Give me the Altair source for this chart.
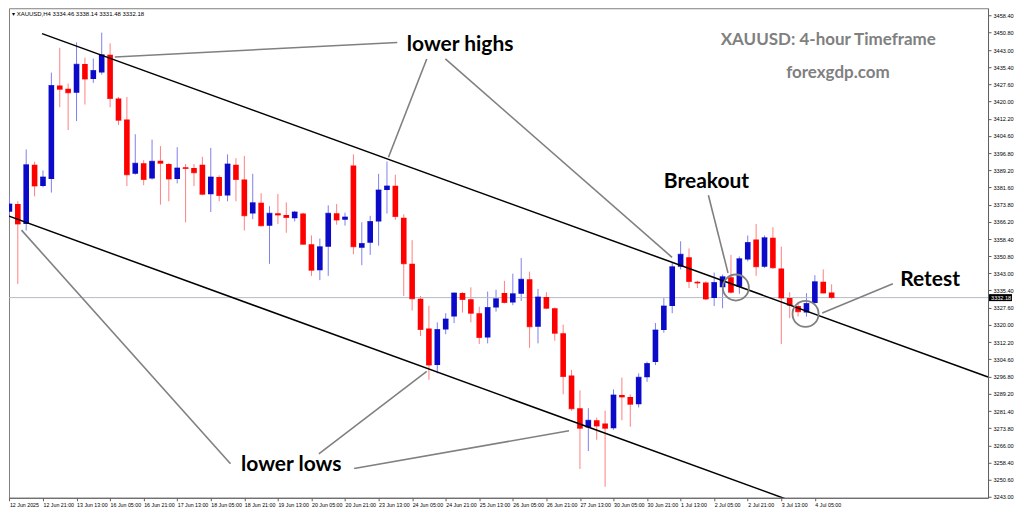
import altair as alt
import pandas as pd

# ---------------- data ----------------
opens = [3370.6, 3374.1, 3365.1, 3391.6, 3382.1, 3385.3, 3427.1, 3425.7, 3423.9, 3436.7,
         3430.0, 3432.9, 3440.9, 3421.3, 3411.9, 3387.6, 3392.3, 3385.5, 3393.4, 3392.0,
         3385.3, 3390.5, 3390.2, 3391.6, 3378.5, 3386.2, 3377.9, 3391.7, 3385.0, 3369.8,
         3374.6, 3364.4, 3369.9, 3369.2, 3367.7, 3369.8, 3356.1, 3344.4, 3355.0, 3369.9,
         3367.0, 3391.3, 3354.5, 3356.7, 3366.3, 3380.4, 3382.3, 3367.9, 3347.3, 3331.7,
         3318.4, 3302.0, 3317.9, 3323.7, 3334.3, 3331.4, 3325.2, 3314.3, 3327.8, 3334.3,
         3330.0, 3333.9, 3340.4, 3319.1, 3332.5, 3327.4, 3316.2, 3297.3, 3282.7, 3274.0,
         3277.3, 3275.8, 3273.7, 3288.6, 3287.7, 3284.5, 3296.5, 3303.4, 3317.7, 3328.4,
         3346.0, 3350.3, 3339.3, 3338.9, 3332.0, 3336.8, 3341.3, 3337.1, 3349.2, 3358.2,
         3346.0, 3359.0, 3345.2, 3332.0, 3328.4, 3325.5, 3329.8, 3339.3, 3334.46]
highs = [3377.5, 3375.3, 3398.5, 3393.0, 3389.1, 3432.9, 3444.0, 3428.0, 3446.4, 3439.6,
         3439.2, 3450.8, 3446.0, 3422.0, 3422.0, 3405.3, 3393.7, 3402.9, 3400.0, 3392.5,
         3399.5, 3392.0, 3392.0, 3395.2, 3399.2, 3386.9, 3396.3, 3394.6, 3395.6, 3387.6,
         3378.9, 3373.1, 3378.6, 3374.8, 3371.0, 3370.2, 3360.0, 3358.6, 3373.5, 3374.1,
         3370.2, 3396.3, 3365.9, 3368.8, 3387.6, 3393.1, 3387.2, 3369.5, 3357.9, 3332.9,
         3328.5, 3321.1, 3325.2, 3334.5, 3334.6, 3336.8, 3328.1, 3334.9, 3335.7, 3339.7,
         3342.9, 3349.9, 3343.8, 3336.1, 3334.6, 3327.8, 3320.1, 3299.8, 3290.6, 3282.7,
         3278.5, 3281.6, 3291.1, 3296.4, 3288.9, 3298.3, 3303.5, 3320.8, 3332.0, 3347.7,
         3357.4, 3354.2, 3339.7, 3339.5, 3343.4, 3342.5, 3351.3, 3350.6, 3360.0, 3365.1,
         3360.0, 3363.7, 3355.0, 3334.6, 3330.3, 3334.2, 3342.2, 3344.8, 3338.14]
lows = [3367.3, 3338.3, 3362.2, 3377.5, 3381.5, 3379.2, 3417.4, 3407.2, 3411.2, 3418.6,
        3428.3, 3432.0, 3417.4, 3409.4, 3382.1, 3387.2, 3382.5, 3385.0, 3373.8, 3375.3,
        3383.3, 3365.9, 3382.1, 3378.0, 3370.5, 3375.3, 3375.3, 3375.3, 3362.2, 3367.3,
        3364.0, 3347.3, 3365.1, 3361.2, 3366.3, 3356.0, 3341.9, 3340.0, 3341.9, 3364.8,
        3364.4, 3351.6, 3346.7, 3351.3, 3355.4, 3369.8, 3367.0, 3332.9, 3326.4, 3315.0,
        3295.4, 3298.3, 3315.8, 3320.8, 3325.5, 3321.1, 3311.4, 3311.7, 3325.9, 3329.6,
        3328.8, 3330.7, 3309.7, 3311.7, 3327.0, 3312.9, 3288.9, 3281.5, 3255.5, 3263.5,
        3268.6, 3247.5, 3273.0, 3277.3, 3274.4, 3283.0, 3294.5, 3302.0, 3316.5, 3325.2,
        3344.8, 3336.5, 3336.5, 3331.0, 3328.4, 3327.4, 3334.0, 3333.9, 3348.4, 3341.9,
        3345.5, 3345.0, 3311.4, 3323.0, 3323.7, 3323.7, 3329.5, 3334.0, 3331.48]
closes = [3374.1, 3365.1, 3391.6, 3382.1, 3386.2, 3427.1, 3425.4, 3423.9, 3436.6, 3430.0,
          3433.8, 3440.9, 3421.3, 3411.6, 3387.2, 3392.3, 3385.0, 3393.2, 3392.3, 3385.3,
          3390.2, 3390.0, 3388.1, 3378.5, 3386.2, 3377.9, 3392.0, 3385.0, 3368.8, 3374.6,
          3364.4, 3369.9, 3369.2, 3368.0, 3370.5, 3356.1, 3344.4, 3355.0, 3369.9, 3366.9,
          3368.3, 3355.0, 3356.4, 3366.3, 3380.4, 3382.1, 3368.5, 3347.3, 3331.7, 3317.9,
          3302.0, 3317.9, 3322.6, 3334.3, 3331.3, 3325.2, 3314.3, 3327.8, 3331.7, 3330.0,
          3333.9, 3340.4, 3319.1, 3332.5, 3327.4, 3316.2, 3296.9, 3282.4, 3273.7, 3277.3,
          3274.7, 3273.7, 3288.6, 3287.7, 3284.5, 3296.5, 3302.7, 3317.7, 3328.4, 3346.0,
          3351.6, 3339.4, 3338.7, 3331.6, 3338.9, 3341.5, 3334.6, 3349.6, 3356.9, 3346.0,
          3359.0, 3345.5, 3332.0, 3328.8, 3325.9, 3329.6, 3339.3, 3334.3, 3332.18]

x_labels = ["12 Jun 2025", "12 Jun 21:00", "13 Jun 13:00", "16 Jun 05:00", "16 Jun 21:00",
            "17 Jun 13:00", "18 Jun 05:00", "18 Jun 21:00", "19 Jun 13:00", "20 Jun 05:00",
            "20 Jun 21:00", "23 Jun 13:00", "24 Jun 05:00", "24 Jun 21:00", "25 Jun 13:00",
            "26 Jun 05:00", "26 Jun 21:00", "27 Jun 13:00", "30 Jun 05:00", "30 Jun 21:00",
            "1 Jul 13:00", "2 Jul 05:00", "2 Jul 21:00", "3 Jul 13:00", "4 Jul 05:00"]
bars_per_label = 4
y_ticks = [3458.40, 3450.80, 3443.00, 3435.40, 3427.60, 3420.00, 3412.20, 3404.60,
           3396.80, 3389.20, 3381.60, 3373.80, 3366.20, 3358.40, 3350.80, 3343.00,
           3335.40, 3327.60, 3320.00, 3312.20, 3304.60, 3296.80, 3289.20, 3281.40,
           3273.80, 3266.00, 3258.40, 3250.60, 3243.00]
last_price = 3332.18
header = "\u25BE XAUUSD,H4  3334.46 3338.14 3331.48 3332.18"

# channel trendlines (bar index, price)
chan_x1 = [3.89, -0.32]
chan_y1 = [3450.34, 3369.0]
chan_x2 = [116.64, 95.0]
chan_y2 = [3296.66, 3238.7]

# grey pointer lines (bar index, price)
ptr_x1 = [12.56, 45.18, 51.96, 1.44, 36.88, 41.09, 83.31, 96.88]
ptr_y1 = [3439.9, 3395.0, 3439.0, 3362.4, 3262.2, 3255.7, 3378.0, 3325.3]
ptr_x2 = [46.23, 49.74, 78.98, 26.35, 49.74, 66.70, 85.65, 105.3]
ptr_y2 = [3446.4, 3439.0, 3350.2, 3257.8, 3299.2, 3272.6, 3343.2, 3338.4]

circ_x = [86.58, 94.89]
circ_y = [3336.7, 3324.9]

label_text = ["lower highs", "lower lows", "Breakout", "Retest"]
label_x = [53.72, 33.6, 83.08, 109.74]
label_y = [3445.1, 3257.4, 3384.1, 3340.2]

title_text = ["XAUUSD: 4-hour Timeframe", "forexgdp.com"]
title_x = [97.6, 98.75]
title_y = [3447.7, 3432.5]

# ---------------- chart ----------------
W, H = 980, 490
BLUE = "#0a0ac8"
RED = "#ff0000"

candles = pd.DataFrame({"i": list(range(len(opens))), "o": opens, "h": highs,
                        "l": lows, "c": closes})
chan = pd.DataFrame({"x1": chan_x1, "y1": chan_y1, "x2": chan_x2, "y2": chan_y2})
ptr = pd.DataFrame({"x1": ptr_x1, "y1": ptr_y1, "x2": ptr_x2, "y2": ptr_y2})
circ = pd.DataFrame({"x": circ_x, "y": circ_y})
labels = pd.DataFrame({"t": label_text, "x": label_x, "y": label_y})
titles = pd.DataFrame({"t": title_text, "x": title_x, "y": title_y})
price = pd.DataFrame({"p": [last_price], "t": [f"{last_price:.2f}"]})

xs = alt.Scale(domain=[-0.05, 116.64], nice=False, zero=False)
ys = alt.Scale(domain=[3242.6, 3461.7], nice=False, zero=False)

label_expr = "[" + ",".join(f"'{s}'" for s in x_labels) + f"][round(datum.value/{bars_per_label})]"

x_axis = alt.Axis(values=[k * bars_per_label for k in range(len(x_labels))],
                  labelExpr=label_expr, labelAlign="left", labelPadding=2,
                  labelFontSize=5.3, labelFont="Liberation Sans", labelColor="#000000",
                  tickSize=3, tickColor="#606060", domainColor="#606060",
                  labelOverlap=False, labelFlush=False, labelBound=False,
                  grid=False, title=None)
y_axis = alt.Axis(orient="right", values=y_ticks, format=".2f", labelFontSize=5.6,
                  labelFont="Liberation Sans", labelColor="#000000", tickSize=3,
                  tickColor="#606060", domainColor="#606060", labelPadding=2,
                  labelOverlap=False, grid=False, title=None)


def X(f):
    return alt.X(f, type="quantitative", scale=xs, axis=x_axis)


def Y(f):
    return alt.Y(f, type="quantitative", scale=ys, axis=y_axis)


bull = alt.datum.c >= alt.datum.o

wicks = alt.Chart(candles).mark_rule(strokeWidth=1, clip=True).encode(
    x=X("i"), y=Y("h"), y2="l:Q",
    color=alt.condition(bull, alt.value("#8080ee"), alt.value("#ff8080")),
)
price_line = alt.Chart(price).mark_rule(color="#b4bcc8", strokeWidth=1).encode(y=Y("p"))
bodies = alt.Chart(candles).mark_rule(strokeWidth=5.6, strokeCap="butt", clip=True).encode(
    x=X("i"), y=Y("o"), y2="c:Q",
    color=alt.condition(bull, alt.value(BLUE), alt.value(RED)),
)
doji = alt.Chart(candles).mark_tick(orient="horizontal", size=5.6, thickness=1, clip=True).encode(
    x=X("i"), y=Y("c"),
    color=alt.condition(bull, alt.value(BLUE), alt.value(RED)),
)

chan_lines = alt.Chart(chan).mark_rule(color="#000000", strokeWidth=1.5, clip=True).encode(
    x=X("x1"), y=Y("y1"), x2="x2:Q", y2="y2:Q")
ptr_lines = alt.Chart(ptr).mark_rule(color="#808080", strokeWidth=1.6, clip=True).encode(
    x=X("x1"), y=Y("y1"), x2="x2:Q", y2="y2:Q")
circles = alt.Chart(circ).mark_point(shape="circle", filled=False, size=680,
                                     color="#808080", strokeWidth=1.8, opacity=1).encode(
    x=X("x"), y=Y("y"))

label_marks = alt.Chart(labels).mark_text(font="Lato", fontWeight="bold", fontSize=21,
                                          color="#000000", align="center",
                                          baseline="middle").encode(
    x=X("x"), y=Y("y"), text="t:N")
title_marks = alt.Chart(titles).mark_text(font="Lato", fontWeight="bold", fontSize=17,
                                          color="#808080", align="center",
                                          baseline="middle").encode(
    x=X("x"), y=Y("y"), text="t:N")
header_mark = alt.Chart(pd.DataFrame({"t": [header]})).mark_text(
    font="Liberation Sans", fontSize=6, color="#000000", align="left",
    baseline="middle").encode(x=alt.value(3), y=alt.value(6), text="t:N")

tag_box = alt.Chart(price).mark_rule(color="#000000", strokeWidth=7, clip=False).encode(
    y=Y("p"), x=alt.value(W + 1), x2=alt.value(W + 24))
tag_text = alt.Chart(price).mark_text(font="Liberation Sans", fontSize=5.6, color="#ffffff",
                                      align="left", baseline="middle", clip=False).encode(
    y=Y("p"), x=alt.value(W + 3), text="t:N")

chart = alt.layer(
    wicks, price_line, bodies, doji, chan_lines, ptr_lines, circles,
    label_marks, title_marks, header_mark, tag_box, tag_text,
).properties(width=W, height=H, padding=0, background="#ffffff").configure_view(
    stroke="#808080", strokeWidth=1
)

chart.save("out.html", embed_options={"renderer": "svg", "actions": False})
